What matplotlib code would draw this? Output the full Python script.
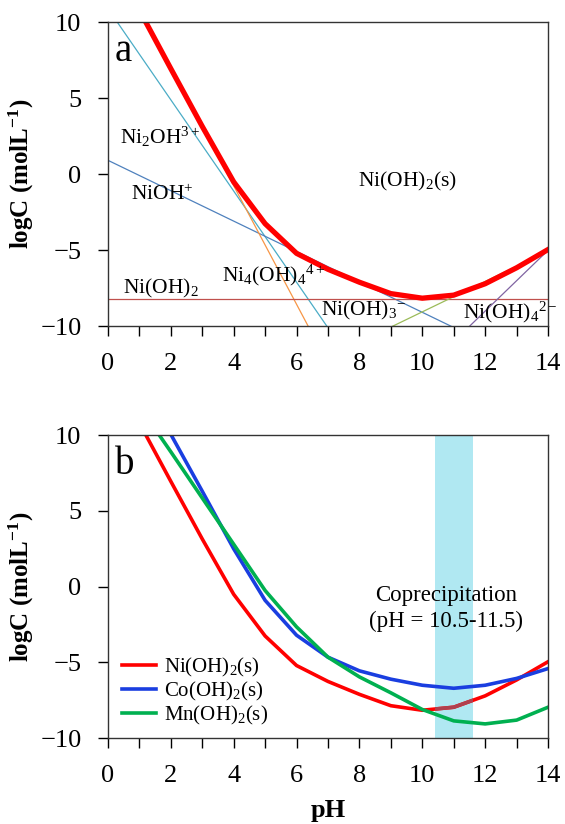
import matplotlib
matplotlib.use("Agg")
import matplotlib.pyplot as plt
from matplotlib.ticker import MultipleLocator

plt.rcParams["font.family"] = ["Liberation Serif", "DejaVu Serif"]
plt.rcParams["mathtext.fontset"] = "custom"
plt.rcParams["mathtext.rm"] = "Liberation Serif"
plt.rcParams["mathtext.it"] = "Liberation Serif:italic"
plt.rcParams["mathtext.bf"] = "Liberation Serif:bold"

# pH grid for the solubility curves
ph = [1, 2, 3, 4, 5, 6, 7, 8, 9, 10, 11, 12, 13, 14]

# total dissolved metal, logC
ni_total = [10.8, 6.95, 3.15, -0.5, -3.25, -5.2, -6.25, -7.1, -7.85, -8.15, -7.95, -7.2, -6.15, -4.95]
co_total = [13.8, 10.05, 6.3, 2.5, -0.9, -3.2, -4.65, -5.55, -6.1, -6.5, -6.7, -6.5, -6.05, -5.4]
mn_total = [11.9, 8.9, 5.85, 2.8, -0.25, -2.65, -4.65, -5.95, -7.0, -8.1, -8.85, -9.05, -8.8, -7.95]

# Ni species lines, logC at pH 0 and pH 14
ph_ends = [0, 14]
ni2oh = [10.9, -31.1]
nioh = [0.92, -13.08]
ni4oh4 = [14.85, -39.75]
nioh2_aq = [-8.2, -8.2]
nioh3 = [-19.05, -5.05]
nioh4 = [-33.0, -5.0]

band_lo, band_hi = 10.4, 11.6


def style_axes(ax):
    ax.set_xlim(0, 14)
    ax.set_ylim(-10, 10)
    ax.xaxis.set_major_locator(MultipleLocator(2))
    ax.xaxis.set_minor_locator(MultipleLocator(1))
    ax.yaxis.set_major_locator(MultipleLocator(5))
    ax.tick_params(axis="both", which="both", direction="out", length=7,
                   width=1, labelsize=19, top=False, right=False)
    ax.tick_params(axis="x", which="major", pad=12)
    ax.tick_params(axis="y", which="major", pad=12)
    for spine in ax.spines.values():
        spine.set_color("#333333")
        spine.set_linewidth(1)
    ax.set_ylabel(r"logC (molL$^{\mathbf{-1}}$)", fontsize=18, fontweight="bold", labelpad=3)


fig = plt.figure(figsize=(5.65, 8.24), dpi=100)
ax1 = fig.add_axes([0.191, 0.604, 0.779, 0.369])
ax2 = fig.add_axes([0.191, 0.104, 0.779, 0.368])

# panel a
species = [
    (ni2oh, "#4BACC6"),
    (nioh, "#4F81BD"),
    (ni4oh4, "#F79646"),
    (nioh2_aq, "#C0504D"),
    (nioh3, "#9BBB59"),
    (nioh4, "#8064A2"),
]
for values, color in species:
    ax1.plot(ph_ends, values, color=color, lw=0.9)
ax1.plot(ph, ni_total, color="#ff0000", lw=3.8, solid_joinstyle="round")

labels_a = [
    (0.38, 2.45, r"Ni$_2$OH$^{3+}$"),
    (0.72, -1.38, r"NiOH$^{+}$"),
    (7.97, -0.5, r"Ni(OH)$_2$(s)"),
    (3.62, -6.64, r"Ni$_4$(OH)$_4$$^{4+}$"),
    (0.47, -7.52, r"Ni(OH)$_2$"),
    (6.78, -8.95, r"Ni(OH)$_3$$^{-}$"),
    (11.3, -9.06, r"Ni(OH)$_4$$^{2-}$"),
]
for x, y, text in labels_a:
    ax1.text(x, y, text, fontsize=15.5, ha="left", va="center")
ax1.text(0.015, 0.965, "a", transform=ax1.transAxes, fontsize=28, ha="left", va="top")
style_axes(ax1)

# panel b
band = ax2.axvspan(band_lo, band_hi, color="#b0e8f2", lw=0, zorder=0)
ax2.plot(ph, ni_total, color="#ff0000", lw=2.6, label=r"Ni(OH)$_2$(s)")
ax2.plot(ph, co_total, color="#1a3ee0", lw=2.6, label=r"Co(OH)$_2$(s)")
ax2.plot(ph, mn_total, color="#00b050", lw=2.6, label=r"Mn(OH)$_2$(s)")
dark, = ax2.plot(ph, ni_total, color="#b0404e", lw=2.6)
dark.set_clip_path(band)

ax2.text(10.75, -1.45, "Coprecipitation\n(pH = 10.5-11.5)", fontsize=16.5,
         ha="center", va="center", linespacing=1.3)
ax2.text(0.015, 0.965, "b", transform=ax2.transAxes, fontsize=28, ha="left", va="top")
ax2.legend(loc="lower left", bbox_to_anchor=(0.0, -0.01), frameon=False, fontsize=15,
           handlelength=1.6, handletextpad=0.4, labelspacing=0.05, borderaxespad=0.3)
style_axes(ax2)
ax2.set_xlabel("pH", fontsize=19, fontweight="bold", labelpad=9)

fig.savefig("out.png", dpi=100)
